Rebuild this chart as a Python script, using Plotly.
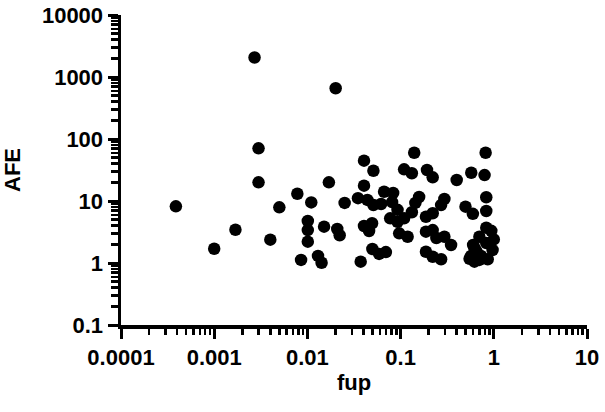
import math
import plotly.graph_objects as go

# fup (fraction unbound in plasma) and AFE values
fup = [
    0.00271, 0.0201, 0.00299, 0.00299, 0.000388, 0.001, 0.00169, 0.0040, 0.0050, 0.0078,
    0.011, 0.0101, 0.0101, 0.0101, 0.00855, 0.0130, 0.0142, 0.0151, 0.0209, 0.0222,
    0.0170, 0.0251, 0.0405, 0.0511, 0.0405, 0.0349, 0.0440, 0.0511, 0.0665, 0.0832,
    0.0405, 0.0494, 0.0459, 0.0373, 0.0498, 0.0588, 0.0695, 0.0773, 0.0927, 0.109,
    0.132, 0.158, 0.144, 0.0966, 0.119, 0.187, 0.221, 0.272, 0.295, 0.187,
    0.221, 0.295, 0.348, 0.187, 0.221, 0.272, 0.140, 0.109, 0.132, 0.192,
    0.221, 0.400, 0.573, 0.796, 0.817, 0.830, 0.830, 0.497, 0.596, 0.0618,
    0.0811, 0.0927, 0.242,
    0.83, 0.94, 1.0, 0.70, 0.60, 0.83, 0.62, 0.97, 0.65, 0.57, 0.73, 0.55, 0.70, 0.86, 0.62,
]
afe = [
    2065, 658, 70.8, 20.0, 8.2, 1.70, 3.44, 2.38, 7.9, 13.1,
    9.5, 4.75, 3.40, 2.21, 1.12, 1.30, 1.01, 3.85, 3.53, 2.80,
    20.0, 9.3, 44.7, 30.8, 17.7, 11.1, 10.4, 8.6, 14.1, 13.5,
    3.95, 4.37, 3.28, 1.05, 1.68, 1.40, 1.50, 5.26, 4.63, 5.26,
    6.58, 11.6, 9.3, 3.01, 2.65, 5.58, 6.34, 8.6, 10.8, 3.20,
    3.40, 2.65, 1.95, 1.52, 1.26, 1.15, 60.1, 32.4, 28.0, 31.6,
    24.1, 21.8, 28.6, 26.2, 60.1, 11.5, 6.9, 8.1, 6.2, 8.95,
    9.6, 7.2, 2.53,
    3.7, 3.3, 2.4, 2.65, 1.95, 2.1, 1.75, 1.62, 1.55, 1.3, 1.3, 1.17, 1.12, 1.15, 1.05,
]

# decade ticks (labels rendered as plain numbers: 0.0001 ... 10 and 0.1 ... 10000)
x_ticks = [0.0001, 0.001, 0.01, 0.1, 1, 10]
x_labels = ["0.0001", "0.001", "0.01", "0.1", "1", "10"]
y_ticks = [0.1, 1, 10, 100, 1000, 10000]
y_labels = ["0.1", "1", "10", "100", "1000", "10000"]

FONT = "Liberation Sans, Arial, Helvetica, sans-serif"
X_RANGE = [math.log10(x_ticks[0]), math.log10(x_ticks[-1])]
Y_RANGE = [math.log10(y_ticks[0]), math.log10(y_ticks[-1])]

fig = go.Figure(
    go.Scatter(
        x=fup, y=afe, mode="markers",
        marker=dict(color="black", size=12.5, line=dict(width=0)),
        showlegend=False,
    )
)

axis_common = dict(
    type="log",
    showgrid=False, zeroline=False, automargin=False,
    showline=True, linecolor="black", linewidth=3.5,
    tickmode="linear", tick0=0, dtick=1, tickformat="~g",
    ticks="outside", ticklen=10, tickwidth=3, tickcolor="black",
    tickfont=dict(family=FONT, size=22, color="black", weight="bold"),
    ticklabeloverflow="allow",
    minor=dict(dtick="D1", ticks="outside", ticklen=6.5, tickwidth=2.5,
               tickcolor="black", showgrid=False),
)

fig.update_layout(
    width=605, height=412,
    margin=dict(l=121, r=18, t=15, b=87),
    paper_bgcolor="white", plot_bgcolor="white",
    xaxis=dict(
        range=X_RANGE,
        title=dict(text="fup", font=dict(family=FONT, size=22, color="black", weight="bold"), standoff=6),
        **axis_common,
    ),
    yaxis=dict(
        range=Y_RANGE,
        title=dict(text="AFE", font=dict(family=FONT, size=22, color="black", weight="bold"), standoff=17),
        **axis_common,
    ),
)

fig.write_html(
    "out.html",
    config={"displayModeBar": False, "staticPlot": True},
    post_script="document.body.style.margin='0';document.body.style.overflow='hidden';",
)
